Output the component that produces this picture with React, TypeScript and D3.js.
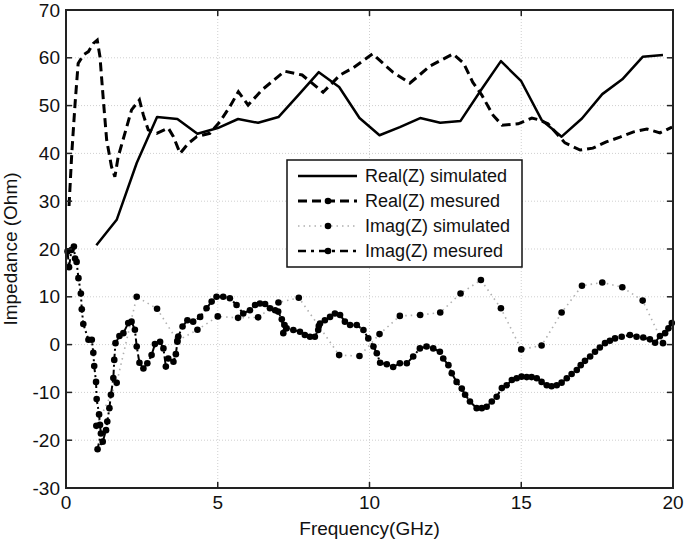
import React from 'react';
import * as d3 from 'd3';

// simulated data share one frequency grid (GHz)
const simFreq = [1.0, 1.67, 2.33, 3.0, 3.67, 4.33, 5.0, 5.67, 6.33, 7.0, 7.67, 8.33, 9.0, 9.67, 10.33, 11.0, 11.67, 12.33, 13.0, 13.67, 14.33, 15.0, 15.67, 16.33, 17.0, 17.67, 18.33, 19.0, 19.67];
const realSim = [20.8, 26.1, 38.0, 47.6, 47.2, 44.1, 45.3, 47.2, 46.4, 47.6, 52.3, 57.0, 53.9, 47.4, 43.8, 45.5, 47.4, 46.4, 46.8, 53.2, 59.3, 55.1, 47.0, 43.5, 47.3, 52.4, 55.5, 60.2, 60.6];
const imagSim = [-17, -8, 10.0, 7.5, 0.8, 3.1, 5.9, 5.6, 5.7, 8.8, 9.8, 3.9, -2.2, -2.4, 2.2, 6.0, 6.2, 6.7, 10.7, 13.5, 7.6, -1.0, -0.2, 6.7, 12.3, 13.0, 12.0, 9.2, 0.3];

const realMeasFreq = [0.1, 0.19, 0.3, 0.4, 0.57, 0.74, 0.9, 1.03, 1.12, 1.23, 1.34, 1.5, 1.61, 1.72, 1.94, 2.16, 2.42, 2.55, 2.71, 2.99, 3.37, 3.54, 3.76, 4.03, 4.31, 4.74, 5.07, 5.4, 5.68, 6.0, 6.46, 7.2, 7.78, 8.47, 9.03, 9.46, 10.1, 10.77, 11.33, 12.0, 12.75, 13.1, 13.4, 13.7, 14.07, 14.37, 14.9, 15.35, 15.6, 15.88, 16.44, 16.94, 17.36, 17.8, 18.25, 18.7, 19.14, 19.57, 19.97];
const realMeas = [29, 40, 50.5, 58.8, 60.6, 61.3, 63.0, 63.7, 60.2, 51.2, 42.8, 37.2, 35.1, 39.3, 44.2, 49.1, 51.2, 48.0, 44.9, 44.2, 45.3, 43.5, 40.0, 42.1, 43.5, 44.2, 46.6, 49.8, 52.9, 50.1, 53.3, 57.2, 56.4, 52.8, 56.4, 57.9, 60.8, 57.0, 54.7, 58.3, 60.8, 58.9, 54.9, 52.2, 48.0, 45.9, 46.2, 47.4, 47.0, 46.2, 42.2, 40.7, 41.1, 42.4, 43.4, 44.5, 45.1, 44.3, 45.5];

const imagMeasFreq = [0.05, 0.1, 0.18, 0.26, 0.3, 0.35, 0.41, 0.49, 0.52, 0.57, 0.74, 0.85, 0.9, 0.93, 0.99, 1.01, 1.09, 1.12, 1.15, 1.04, 1.21, 1.32, 1.36, 1.43, 1.48, 1.56, 1.59, 1.63, 1.76, 1.89, 2.05, 2.16, 2.27, 2.33, 2.42, 2.55, 2.68, 2.82, 2.93, 3.1, 3.21, 3.29, 3.37, 3.54, 3.62, 3.67, 3.7, 3.84, 4.0, 4.19, 4.42, 4.63, 4.8, 4.96, 5.18, 5.4, 5.62, 5.84, 6.06, 6.23, 6.39, 6.56, 6.72, 6.89, 6.99, 7.11, 7.16, 7.2, 7.27, 7.49, 7.71, 7.87, 8.04, 8.2, 8.31, 8.37, 8.53, 8.7, 8.86, 9.03, 9.19, 9.36, 9.58, 9.8, 9.96, 10.13, 10.24, 10.35, 10.57, 10.78, 11.0, 11.23, 11.44, 11.66, 11.88, 12.1, 12.32, 12.43, 12.6, 12.71, 12.87, 13.04, 13.15, 13.31, 13.53, 13.7, 13.86, 14.03, 14.19, 14.36, 14.52, 14.69, 14.85, 15.01, 15.18, 15.34, 15.51, 15.67, 15.84, 16.0, 16.17, 16.33, 16.5, 16.66, 16.83, 16.96, 17.1, 17.27, 17.43, 17.59, 17.76, 17.92, 18.09, 18.31, 18.58, 18.8, 19.02, 19.24, 19.41, 19.57, 19.74, 19.85, 19.96];
const imagMeas = [19.5, 16.2, 19.8, 20.5, 18.0, 17.3, 13.9, 10.7, 7.4, 4.3, 1.0, 1.0, -1.7, -4.5, -7.8, -11.4, -14.6, -16.8, -18.6, -21.9, -20.3, -17.9, -16.1, -13.3, -10.5, -7.0, -3.2, 0.3, 1.8, 2.4, 4.5, 4.8, 3.1, -0.4, -3.8, -5.0, -3.9, -2.2, 0.1, 0.6, -0.8, -4.6, -2.9, -3.6, -2.0, 0.6, 1.7, 3.8, 5.1, 4.8, 5.8, 7.6, 9.0, 10.0, 10.0, 9.7, 8.3, 6.5, 7.2, 8.3, 8.6, 8.5, 7.6, 7.2, 6.9, 5.3, 2.4, 4.1, 3.4, 3.05, 2.7, 2.0, 1.65, 1.65, 3.05, 4.4, 5.1, 5.8, 6.5, 6.2, 4.8, 4.1, 4.1, 3.05, 1.3, -0.4, -1.8, -3.8, -4.1, -4.7, -3.9, -3.9, -2.5, -0.8, -0.4, -0.8, -1.5, -2.9, -4.3, -6.0, -7.8, -9.2, -10.5, -11.9, -13.3, -13.3, -13.0, -11.9, -10.9, -9.1, -8.5, -7.4, -7.05, -6.7, -6.8, -6.8, -7.05, -7.8, -8.5, -8.7, -8.5, -7.96, -7.05, -6.15, -5.3, -4.3, -3.4, -2.5, -1.5, -0.6, 0.3, 0.8, 1.3, 1.65, 2.0, 1.65, 1.5, 1.1, 0.4, 1.8, 2.4, 3.4, 4.5];

const xTicks = [0, 5, 10, 15, 20];
const yTicks = [-30, -20, -10, 0, 10, 20, 30, 40, 50, 60, 70];
const legendLabels = ['Real(Z) simulated', 'Real(Z) mesured', 'Imag(Z) simulated', 'Imag(Z) mesured'];

const W = 685, H = 540;
const FONT = '"Liberation Sans", Arial, Helvetica, sans-serif';

const App = () => {
    const x = d3.scaleLinear().domain([0, 20]).range([66, 673]);
    const y = d3.scaleLinear().domain([-30, 70]).range([488, 10]);

    const line = d3.line<[number, number]>()
        .x(d => x(d[0]))
        .y(d => y(d[1]));

    const zip = (xs: number[], ys: number[]) => xs.map((v, i) => [v, ys[i]] as [number, number]);
    const realSimPts = zip(simFreq, realSim);
    const imagSimPts = zip(simFreq, imagSim);
    const realMeasPts = zip(realMeasFreq, realMeas);
    const imagMeasPts = zip(imagMeasFreq, imagMeas);

    const [x0, x1] = x.range();
    const [y0, y1] = y.range();

    // legend box
    const lg = { x: 287, y: 160, w: 235, h: 107 };
    const rowY = [176, 201, 226, 251];

    return (
        <svg width={W} height={H} style={{ position: 'absolute', left: 0, top: 0, background: '#fff' }} fontFamily={FONT}>
            {/* grid */}
            {xTicks.slice(1, -1).map(t => (
                <line key={'gx' + t} x1={x(t)} x2={x(t)} y1={y1} y2={y0} stroke="#cfcfcf" strokeWidth={1} strokeDasharray="1,2" />
            ))}
            {yTicks.slice(1, -1).map(t => (
                <line key={'gy' + t} x1={x0} x2={x1} y1={y(t)} y2={y(t)} stroke="#cfcfcf" strokeWidth={1} strokeDasharray="1,2" />
            ))}

            {/* Imag(Z) simulated */}
            <path d={line(imagSimPts) || ''} fill="none" stroke="#b0b0b0" strokeWidth={1.6} strokeDasharray="1.5,4" />
            {imagSimPts.map((d, i) => (
                <circle key={'is' + i} cx={x(d[0])} cy={y(d[1])} r={3.3} fill="#000" />
            ))}

            {/* Imag(Z) measured */}
            <path d={line(imagMeasPts) || ''} fill="none" stroke="#000" strokeWidth={2} strokeDasharray="8,3,2,3" />
            {imagMeasPts.map((d, i) => (
                <circle key={'im' + i} cx={x(d[0])} cy={y(d[1])} r={3.3} fill="#000" />
            ))}

            {/* Real(Z) measured */}
            <path d={line(realMeasPts) || ''} fill="none" stroke="#000" strokeWidth={3} strokeDasharray="9,5" />

            {/* Real(Z) simulated */}
            <path d={line(realSimPts) || ''} fill="none" stroke="#000" strokeWidth={2.5} strokeLinejoin="round" />

            {/* frame */}
            <rect x={x0} y={y1} width={x1 - x0} height={y0 - y1} fill="none" stroke="#222" strokeWidth={2} />
            {xTicks.slice(1, -1).map(t => (
                <g key={'tx' + t}>
                    <line x1={x(t)} x2={x(t)} y1={y0} y2={y0 - 6} stroke="#222" strokeWidth={1.5} />
                    <line x1={x(t)} x2={x(t)} y1={y1} y2={y1 + 6} stroke="#222" strokeWidth={1.5} />
                </g>
            ))}
            {yTicks.slice(1, -1).map(t => (
                <g key={'ty' + t}>
                    <line x1={x0} x2={x0 + 6} y1={y(t)} y2={y(t)} stroke="#222" strokeWidth={1.5} />
                    <line x1={x1} x2={x1 - 6} y1={y(t)} y2={y(t)} stroke="#222" strokeWidth={1.5} />
                </g>
            ))}

            {/* tick labels */}
            {xTicks.map(t => (
                <text key={'lx' + t} x={x(t)} y={509} textAnchor="middle" fontSize={19} fill="#111">{t}</text>
            ))}
            {yTicks.map(t => (
                <text key={'ly' + t} x={60} y={y(t)} dy="0.35em" textAnchor="end" fontSize={19} fill="#111">{t}</text>
            ))}

            {/* axis titles */}
            <text x={(x0 + x1) / 2} y={535} textAnchor="middle" fontSize={19} fill="#111">Frequency(GHz)</text>
            <text transform={`translate(17, ${(y0 + y1) / 2}) rotate(-90)`} textAnchor="middle" fontSize={19} fill="#111">Impedance (Ohm)</text>

            {/* legend */}
            <rect x={lg.x} y={lg.y} width={lg.w} height={lg.h} fill="#fff" stroke="#111" strokeWidth={1.5} />
            <line x1={298} x2={357} y1={rowY[0]} y2={rowY[0]} stroke="#000" strokeWidth={2.5} />
            <line x1={298} x2={357} y1={rowY[1]} y2={rowY[1]} stroke="#000" strokeWidth={3} strokeDasharray="9,5" />
            <circle cx={328} cy={rowY[1]} r={3.3} fill="#000" />
            <line x1={298} x2={357} y1={rowY[2]} y2={rowY[2]} stroke="#b0b0b0" strokeWidth={1.6} strokeDasharray="1.5,4" />
            <circle cx={328} cy={rowY[2]} r={3.3} fill="#000" />
            <line x1={298} x2={357} y1={rowY[3]} y2={rowY[3]} stroke="#000" strokeWidth={2.5} strokeDasharray="8,5,3,5" />
            <circle cx={328} cy={rowY[3]} r={3.3} fill="#000" />
            {legendLabels.map((l, i) => (
                <text key={l} x={365} y={rowY[i]} dy="0.35em" fontSize={18} fill="#111">{l}</text>
            ))}
        </svg>
    );
};

export default App;
